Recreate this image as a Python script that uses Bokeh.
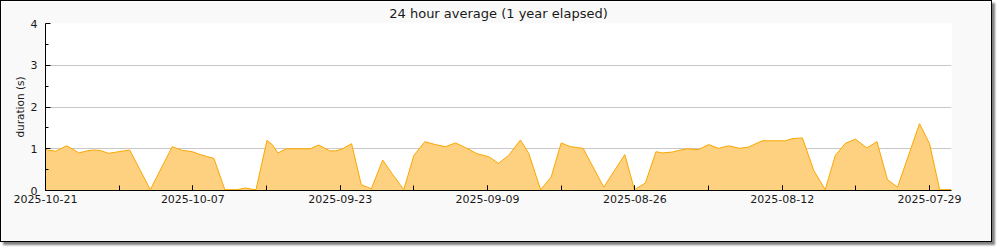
import pandas as pd
from bokeh.plotting import figure
from bokeh.models import ColumnDataSource, Range1d, FixedTicker, DatetimeTickFormatter
from bokeh.embed import file_html
from bokeh.resources import INLINE

title_text = "24 hour average (1 year elapsed)"
y_label = "duration (s)"

timestamps = [
    "2025-10-21 00:00", "2025-10-20 01:00", "2025-10-19 00:00", "2025-10-18 08:00", "2025-10-17 20:00",
    "2025-10-17 01:00", "2025-10-16 10:00", "2025-10-15 20:00", "2025-10-15 00:00", "2025-10-14 01:00",
    "2025-10-13 00:00", "2025-10-11 01:00", "2025-10-08 23:00", "2025-10-08 00:00", "2025-10-07 01:00",
    "2025-10-06 07:00", "2025-10-05 15:00", "2025-10-05 00:00", "2025-10-03 23:00", "2025-10-02 19:00",
    "2025-10-02 00:00", "2025-10-01 09:00", "2025-10-01 00:00", "2025-09-29 23:00", "2025-09-29 11:00",
    "2025-09-28 22:00", "2025-09-28 03:00", "2025-09-25 20:00", "2025-09-25 01:00", "2025-09-24 00:00",
    "2025-09-23 11:00", "2025-09-22 20:00", "2025-09-21 22:00", "2025-09-21 00:00", "2025-09-20 01:00",
    "2025-09-18 23:00", "2025-09-18 02:00", "2025-09-16 23:00", "2025-09-16 00:00", "2025-09-14 23:00",
    "2025-09-13 23:00", "2025-09-13 00:00", "2025-09-12 01:00", "2025-09-10 23:00", "2025-09-10 00:00",
    "2025-09-08 21:00", "2025-09-07 23:00", "2025-09-07 00:00", "2025-09-05 21:00", "2025-09-05 02:00",
    "2025-09-03 23:00", "2025-09-02 23:00", "2025-09-02 00:00", "2025-09-01 03:00", "2025-08-30 22:00",
    "2025-08-28 23:00", "2025-08-26 23:00", "2025-08-26 01:00", "2025-08-25 00:00", "2025-08-24 00:00",
    "2025-08-23 10:00", "2025-08-22 11:00", "2025-08-21 20:00", "2025-08-21 01:00", "2025-08-19 23:00",
    "2025-08-19 00:00", "2025-08-18 01:00", "2025-08-17 02:00", "2025-08-16 01:00", "2025-08-15 05:00",
    "2025-08-13 22:00", "2025-08-11 17:00", "2025-08-11 02:00", "2025-08-10 02:00", "2025-08-09 00:00",
    "2025-08-07 22:00", "2025-08-06 23:00", "2025-08-06 00:00", "2025-08-05 01:00", "2025-08-03 23:00",
    "2025-08-03 00:00", "2025-08-02 00:00", "2025-08-01 01:00", "2025-07-29 23:00", "2025-07-29 00:00",
    "2025-07-28 01:00", "2025-07-26 22:00",
]
durations = [
    0.98, 0.94, 1.07, 0.98, 0.90,
    0.95, 0.97, 0.96, 0.89, 0.93,
    0.97, 0.02, 1.05, 0.96, 0.93,
    0.86, 0.81, 0.77, 0.02, 0.02,
    0.06, 0.03, 0.02, 1.20, 1.10,
    0.90, 1.00, 1.00, 1.09, 0.95,
    0.95, 0.99, 1.12, 0.14, 0.04,
    0.73, 0.41, 0.02, 0.84, 1.17,
    1.10, 1.05, 1.14, 1.01, 0.88,
    0.81, 0.65, 0.84, 1.21, 0.89,
    0.02, 0.32, 1.14, 1.05, 1.01,
    0.08, 0.86, 0.02, 0.18, 0.93,
    0.90, 0.92, 0.96, 1.00, 0.98,
    1.10, 1.01, 1.07, 1.01, 1.04,
    1.19, 1.19, 1.24, 1.26, 0.48,
    0.02, 0.84, 1.13, 1.23, 1.02,
    1.17, 0.26, 0.08, 1.60, 1.12,
    0.02, 0.02,
]

x_start = "2025-10-21 00:00"
x_end = "2025-07-26 22:00"
major_dates = ["2025-10-21", "2025-10-07", "2025-09-23", "2025-09-09", "2025-08-26", "2025-08-12", "2025-07-29"]
minor_dates = ["2025-10-14", "2025-09-30", "2025-09-16", "2025-09-02", "2025-08-19", "2025-08-05"]
y_major = [0, 1, 2, 3, 4]
y_minor = [0.5, 1.5, 2.5, 3.5]

def ms(s):
    return pd.Timestamp(s).value / 1e6

source = ColumnDataSource(dict(t=pd.to_datetime(timestamps), v=durations))

p = figure(width=992, height=242, output_backend="svg", toolbar_location=None,
           x_axis_type="datetime",
           x_range=Range1d(ms(x_start), ms(x_end)), y_range=Range1d(0, 4),
           min_border_left=44, min_border_right=42, min_border_top=22, min_border_bottom=53)

p.styles = {"border": "1px solid #000000", "box-shadow": "3px 3px 2px #808080"}
p.border_fill_color = "#f9f9f9"
p.background_fill_color = "#ffffff"
p.outline_line_color = None

p.title.text = title_text
p.title.align = "center"
p.title.text_font = "DejaVu Sans"
p.title.text_font_size = "13px"
p.title.text_font_style = "normal"
p.title.text_color = "#1a1a1a"
p.title.standoff = 5

p.varea(x="t", y1=0, y2="v", source=source, fill_color="#fdd17f", fill_alpha=1.0)
p.line(x="t", y="v", source=source, line_color="#fba600", line_width=1)

xa = p.xaxis[0]
xa.ticker = FixedTicker(ticks=[ms(d) for d in major_dates],
                        minor_ticks=[ms(d) for d in minor_dates + major_dates])
fmt = "%Y-%m-%d"
xa.formatter = DatetimeTickFormatter(microseconds=fmt, milliseconds=fmt, seconds=fmt, minsec=fmt,
                                     minutes=fmt, hourmin=fmt, hours=fmt, days=fmt, months=fmt, years=fmt)

ya = p.yaxis[0]
ya.ticker = FixedTicker(ticks=y_major, minor_ticks=y_minor)
ya.axis_label = y_label

for ax in (xa, ya):
    ax.axis_line_color = "#000000"
    ax.axis_line_width = 1
    ax.major_tick_line_color = "#000000"
    ax.minor_tick_line_color = "#000000"
    ax.major_tick_in = 5
    ax.major_tick_out = 0
    ax.major_label_text_font = "DejaVu Sans"
    ax.major_label_text_font_size = "11px"
    ax.major_label_text_color = "#1a1a1a"
    ax.axis_label_text_font = "DejaVu Sans"
    ax.axis_label_text_font_size = "10.5px"
    ax.axis_label_text_font_style = "normal"
    ax.axis_label_text_color = "#1a1a1a"

xa.minor_tick_in = 5
xa.minor_tick_out = 0
xa.major_label_standoff = 4
ya.minor_tick_in = 3
ya.minor_tick_out = 0
ya.major_label_standoff = 8
ya.axis_label_standoff = 2

p.xgrid.grid_line_color = None
p.ygrid.grid_line_color = "#c8c8c8"
p.ygrid.grid_line_width = 1

open("out.html", "w").write(file_html(p, INLINE))
